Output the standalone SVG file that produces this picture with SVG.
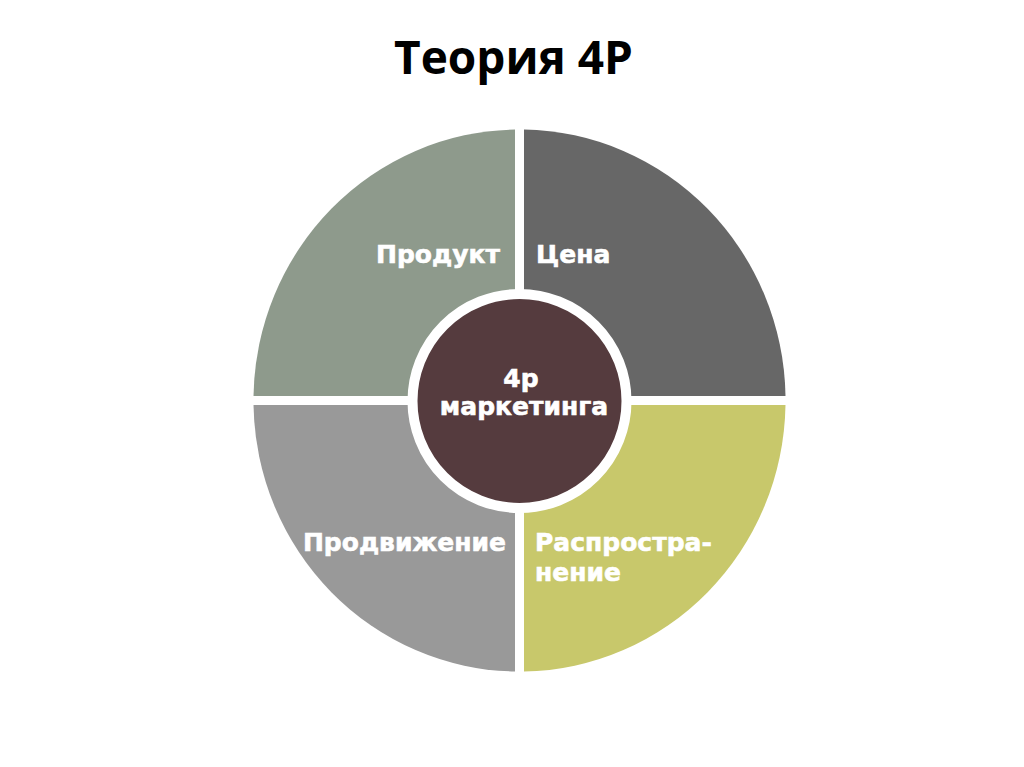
<svg xmlns="http://www.w3.org/2000/svg" width="1024" height="767" viewBox="0 0 1024 767">
  <style>
    .lbl { font-family: "DejaVu Sans", "Liberation Sans", sans-serif; font-weight: bold; font-size: 25px; fill: #ffffff; stroke: #ffffff; stroke-width: 0.6px; }
    .title { font-family: "Open Sans", "Liberation Sans", sans-serif; font-weight: bold; font-size: 46px; fill: #000000; }
  </style>
  <rect x="0" y="0" width="1024" height="767" fill="#ffffff"/>
  <text class="title" x="513.5" y="74" text-anchor="middle">Теория 4Р</text>

  <g id="product">
    <path d="M515,396 L253.5,396 A266,271 0 0 1 515,129.5 Z" fill="#8E9A8C"/>
    <text class="lbl" x="500" y="263" text-anchor="end">Продукт</text>
  </g>
  <g id="price">
    <path d="M524,396 L524,129.5 A266,271 0 0 1 785.5,396 Z" fill="#676767"/>
    <text class="lbl" x="536" y="263">Цена</text>
  </g>
  <g id="promotion">
    <path d="M515,405 L515,671.5 A266,271 0 0 1 253.5,405 Z" fill="#999999"/>
    <text class="lbl" x="506" y="551" text-anchor="end">Продвижение</text>
  </g>
  <g id="place">
    <path d="M524,405 L785.5,405 A266,271 0 0 1 524,671.5 Z" fill="#C8C86B"/>
    <text class="lbl" x="535" y="551">Распростра-</text>
    <text class="lbl" x="535" y="581">нение</text>
  </g>
  <g id="center">
    <circle cx="519.5" cy="401" r="107" fill="#553B3E" stroke="#ffffff" stroke-width="10"/>
    <text class="lbl" x="521" y="387" text-anchor="middle">4р</text>
    <text class="lbl" x="524" y="415" text-anchor="middle">маркетинга</text>
  </g>
  <g id="connectors"/>
</svg>
